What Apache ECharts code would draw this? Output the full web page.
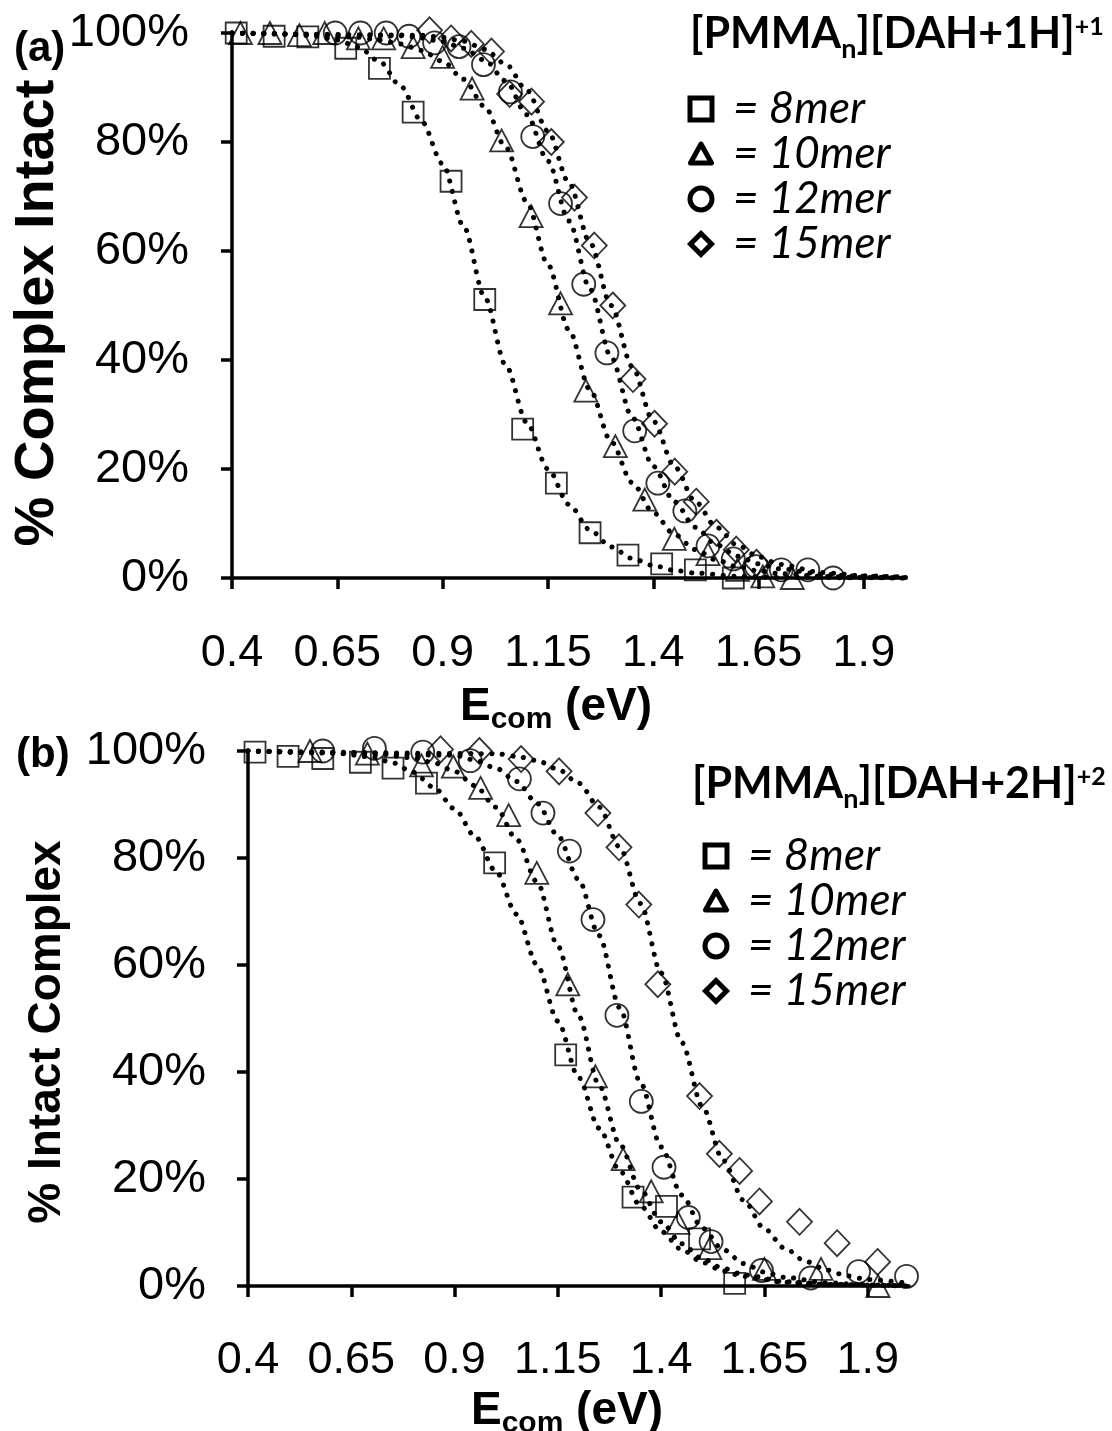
<!DOCTYPE html>
<html>
<head>
<meta charset="utf-8">
<title>% Complex Intact vs Ecom</title>
<script src="https://cdn.jsdelivr.net/npm/echarts@6.0.0/dist/echarts.min.js"></script>
<style>
html,body{margin:0;padding:0;background:#ffffff;}
#chart{width:1112px;height:1431px;}
</style>
</head>
<body>
<div id="chart"></div>
<script>
// ---------------- Data ----------------
const xTickValues = [0.4, 0.65, 0.9, 1.15, 1.4, 1.65, 1.9];
const seriesNames = ['8mer', '10mer', '12mer', '15mer'];

// Panel (a) [PMMAn][DAH+1H]+1 : measured points
const a8merX  = [0.41, 0.50, 0.58, 0.67, 0.75, 0.83, 0.92, 1.00, 1.09, 1.17, 1.25, 1.34, 1.42, 1.50, 1.59];
const a8merY  = [100, 99.4, 99.3, 97.2, 93.5, 85.5, 72.8, 51.1, 27.3, 17.4, 8.3, 4.2, 2.6, 1.5, 0];
const a10merX = [0.42, 0.49, 0.56, 0.62, 0.70, 0.76, 0.83, 0.90, 0.97, 1.04, 1.11, 1.18, 1.24, 1.31, 1.38, 1.45, 1.53, 1.60, 1.66, 1.73];
const a10merY = [100, 100, 99.6, 100, 99, 99, 97.4, 95.6, 89.8, 80.3, 66.4, 50.4, 34.4, 24.2, 14.4, 7.2, 4.4, 1.5, 0.3, 0];
const a12merX = [0.645, 0.705, 0.766, 0.82, 0.881, 0.939, 0.997, 1.061, 1.114, 1.18, 1.235, 1.29, 1.356, 1.411, 1.475, 1.53, 1.59, 1.645, 1.704, 1.767, 1.827];
const a12merY = [100, 100, 100, 99.4, 98.2, 97.5, 94.2, 89.2, 81, 68.7, 53.9, 41.3, 27, 17.4, 12.3, 5.9, 3.5, 2.1, 1.5, 1.5, 0];
const a15merX = [0.869, 0.92, 0.968, 1.016, 1.059, 1.111, 1.158, 1.213, 1.26, 1.304, 1.352, 1.403, 1.451, 1.502, 1.55, 1.597, 1.645];
const a15merY = [100.5, 99, 98, 96.6, 88.8, 87.4, 80, 69.8, 61, 50, 36.5, 28.3, 19.5, 14, 8.3, 5.2, 2.8];

// Panel (a) dotted fit curves
const a8fitX  = [0.4, 0.5, 0.55, 0.6, 0.65, 0.7, 0.75, 0.8, 0.85, 0.9, 0.95, 1.0, 1.05, 1.1, 1.15, 1.2, 1.25, 1.3, 1.35, 1.4, 1.45, 1.5, 1.6, 1.7, 2.0];
const a8fitY  = [100, 99.9, 99.7, 99.4, 98.7, 97.4, 94.8, 90.3, 83.8, 76, 64.5, 51.5, 39, 28.5, 20, 13.5, 8.8, 5.7, 3.6, 2.3, 1.4, 0.9, 0.3, 0.1, 0];
const a10fitX = [0.4, 0.6, 0.7, 0.75, 0.8, 0.85, 0.9, 0.95, 1.0, 1.05, 1.1, 1.15, 1.2, 1.25, 1.3, 1.35, 1.4, 1.45, 1.5, 1.55, 1.6, 1.65, 1.7, 1.8, 1.9, 2.0];
const a10fitY = [100, 99.7, 99.2, 98.7, 98, 96.8, 94.8, 91.5, 86.5, 79, 69, 57.5, 45.5, 34.5, 25, 17.5, 12, 8, 5.2, 3.3, 2.1, 1.3, 0.8, 0.3, 0.1, 0];
const a12fitX = [0.4, 0.8, 0.85, 0.9, 0.95, 1.0, 1.05, 1.1, 1.15, 1.2, 1.25, 1.3, 1.35, 1.4, 1.45, 1.5, 1.55, 1.6, 1.65, 1.7, 1.8, 1.9, 2.0];
const a12fitY = [100, 99.5, 99.1, 98.4, 97.2, 95, 91.2, 85, 76.5, 65.5, 53, 40.5, 29.5, 20.5, 14, 9.3, 6.1, 4, 2.6, 1.7, 0.7, 0.3, 0.1];
const a15fitX = [0.4, 0.85, 0.9, 0.95, 1.0, 1.05, 1.1, 1.15, 1.2, 1.25, 1.3, 1.35, 1.4, 1.45, 1.5, 1.55, 1.6, 1.65, 1.7, 1.8, 1.9, 2.0];
const a15fitY = [100, 99.6, 99.2, 98.5, 97, 94.3, 89.5, 82, 72.5, 61.5, 50, 38.8, 28.8, 20.5, 14, 9.3, 6, 3.9, 2.5, 1, 0.4, 0.15];

// Panel (b) [PMMAn][DAH+2H]+2 : measured points
const b8merX  = [0.417, 0.497, 0.581, 0.672, 0.751, 0.832, 0.997, 1.169, 1.332, 1.413, 1.493, 1.578];
const b8merY  = [99.8, 99, 98.6, 97.9, 96.8, 94, 79.1, 43.2, 16.6, 14.9, 8.8, 0.5];
const b10merX = [0.55, 0.689, 0.82, 0.897, 0.963, 1.031, 1.099, 1.174, 1.241, 1.308, 1.376, 1.441, 1.518, 1.65, 1.787, 1.925];
const b10merY = [100, 99.5, 97.3, 97.1, 93.1, 88, 77.2, 56.4, 39.2, 23.7, 17.7, 11.8, 7.1, 3.2, 3.2, 0];
const b12merX = [0.581, 0.706, 0.823, 0.938, 1.057, 1.114, 1.178, 1.235, 1.293, 1.352, 1.407, 1.466, 1.521, 1.643, 1.762, 1.878, 1.994];
const b12merY = [100, 100.5, 99.8, 98.2, 94.8, 88.4, 81.3, 68.5, 50.6, 34.5, 22.2, 12.8, 8.3, 2.9, 1.5, 2.7, 1.8];
const b15merX = [0.866, 0.96, 1.061, 1.153, 1.247, 1.298, 1.346, 1.392, 1.493, 1.541, 1.59, 1.638, 1.735, 1.826, 1.924];
const b15merY = [100.3, 100, 98.5, 96.2, 88.4, 82, 71.3, 56.4, 35.5, 24.7, 21.5, 15.8, 12, 8, 4.5];

// Panel (b) dotted fit curves
const b8fitX  = [0.4, 0.6, 0.7, 0.75, 0.8, 0.85, 0.9, 0.95, 1.0, 1.05, 1.1, 1.15, 1.2, 1.25, 1.3, 1.35, 1.4, 1.45, 1.5, 1.55, 1.6, 1.7, 1.8, 2.0];
const b8fitY  = [100, 99.7, 98.9, 97.8, 96, 93.2, 89.2, 84, 77.5, 69.5, 60, 49.5, 39, 29.5, 21.5, 15, 10.2, 6.8, 4.4, 2.8, 1.8, 0.7, 0.3, 0];
const b10fitX = [0.4, 0.7, 0.8, 0.85, 0.9, 0.95, 1.0, 1.05, 1.1, 1.15, 1.2, 1.25, 1.3, 1.35, 1.4, 1.45, 1.5, 1.55, 1.6, 1.7, 1.8, 2.0];
const b10fitY = [100, 99.6, 98.7, 97.8, 96.2, 93.5, 89.5, 83.5, 75.5, 63.5, 50.5, 37.5, 26.5, 18, 12, 7.9, 5.1, 3.3, 2.1, 0.8, 0.3, 0];
const b12fitX = [0.4, 0.9, 0.95, 1.0, 1.05, 1.1, 1.15, 1.2, 1.25, 1.3, 1.35, 1.4, 1.45, 1.5, 1.55, 1.6, 1.65, 1.7, 1.8, 1.9, 2.0];
const b12fitY = [100, 99.2, 98.3, 96.8, 94.3, 90.2, 84.2, 76, 65.5, 52, 38, 26, 17, 10.8, 6.8, 4.2, 2.6, 1.6, 0.6, 0.2, 0.1];
const b15fitX = [0.4, 1.0, 1.05, 1.1, 1.15, 1.2, 1.25, 1.3, 1.35, 1.4, 1.45, 1.5, 1.55, 1.6, 1.65, 1.7, 1.75, 1.8, 1.85, 1.9, 2.0];
const b15fitY = [100, 99.5, 99, 98.2, 96.6, 94, 89.5, 82, 71.5, 58.5, 45.5, 33.5, 23.5, 16, 10.7, 7, 4.6, 3, 1.9, 1.2, 0.5];

// ---------------- Chart ----------------
const pairs = (xs, ys) => xs.map((x, i) => [x, ys[i]]);
const chart = echarts.init(document.getElementById('chart'), null, {renderer: 'canvas'});

const markerDefs = [
  {symbol: 'rect', size: [21, 21]},
  {symbol: 'triangle', size: [23, 22]},
  {symbol: 'circle', size: [23, 23]},
  {symbol: 'diamond', size: [25, 26]}
];

function scatterSeries(idx, name, xs, ys, m) {
  return {
    type: 'scatter', name: name, xAxisIndex: idx, yAxisIndex: idx,
    data: pairs(xs, ys), symbol: m.symbol, symbolSize: m.size,
    clip: false, silent: true, z: 3,
    itemStyle: {color: 'rgba(0,0,0,0)', borderColor: '#000', borderWidth: 1.8}
  };
}
function fitSeries(idx, xs, ys) {
  return {
    type: 'line', xAxisIndex: idx, yAxisIndex: idx,
    data: pairs(xs, ys), showSymbol: false, symbol: 'none',
    smooth: 0.3, smoothMonotone: 'x', silent: true, clip: false, z: 2,
    lineStyle: {color: '#000', width: 5, type: [0.1, 10.5], cap: 'round'}
  };
}

const gridA = {left: 232, top: 33, width: 674, height: 545};
const gridB = {left: 248, top: 751, width: 661, height: 535};

function xAxisCfg(idx, margin) {
  return {
    type: 'value', gridIndex: idx, min: 0.4, max: 2.0,
    axisLine: {show: true, onZero: false, lineStyle: {color: '#000', width: 3.5}},
    axisTick: {show: true, length: 11, customValues: xTickValues, lineStyle: {color: '#000', width: 3.5}},
    axisLabel: {customValues: xTickValues, margin: margin, color: '#000', fontSize: 45,
      fontFamily: 'Liberation Sans, Arial, sans-serif', hideOverlap: false,
      formatter: v => String(+v.toFixed(2))},
    splitLine: {show: false}
  };
}
function yAxisCfg(idx, margin) {
  return {
    type: 'value', gridIndex: idx, min: 0, max: 100, interval: 20,
    axisLine: {show: true, onZero: false, lineStyle: {color: '#000', width: 3.5}},
    axisTick: {show: true, length: 11, lineStyle: {color: '#000', width: 3.5}},
    axisLabel: {margin: margin, color: '#000', fontSize: 47,
      fontFamily: 'Liberation Sans, Arial, sans-serif', formatter: '{value}%'},
    splitLine: {show: false}
  };
}

// ---- text helpers (measure to place sub/superscripts) ----
const mctx = document.createElement('canvas').getContext('2d');
function tw(text, font) { mctx.font = font; return mctx.measureText(text).width; }
function baseOff(font) { mctx.font = font; mctx.textBaseline = 'middle'; return mctx.measureText('H').actualBoundingBoxDescent; }
function textRun(parts, x, B, align) {
  const total = parts.reduce((s, p) => s + tw(p.t, p.font), 0);
  let cx = align === 'center' ? x - total / 2 : (align === 'right' ? x - total : x);
  const out = [];
  parts.forEach(p => {
    out.push({type: 'text', x: cx, y: B + (p.dy || 0) - baseOff(p.font), z: 50, silent: true,
      style: {text: p.t, font: p.font, fill: '#000', textAlign: 'left', verticalAlign: 'middle'}});
    cx += tw(p.t, p.font);
  });
  return out;
}

const ARIALB = (s) => 'bold ' + s + 'px "Liberation Sans", Arial, sans-serif';
const CALB = (s) => 'bold ' + s + 'px Lato, "Noto Sans", sans-serif';
const CALI = (s) => 'italic ' + s + 'px Lato, "Noto Sans", sans-serif';

function legendBlock(charge, titleX, titleBase, symX, textX, rows) {
  const g = [];
  g.push(...textRun([
    {t: '[PMMA', font: CALB(43)},
    {t: 'n', font: CALB(27), dy: 10},
    {t: '][DAH+' + charge + 'H]', font: CALB(43)},
    {t: '+' + charge, font: CALB(25), dy: -13}
  ], titleX, titleBase, 'left'));
  const st = {fill: 'none', stroke: '#000', lineWidth: 5};
  const [r0, r1, r2, r3] = rows;
  g.push({type: 'rect', shape: {x: symX - 11, y: r0 - 11, width: 22, height: 22}, style: Object.assign({}, st), z: 50, silent: true});
  g.push({type: 'polygon', shape: {points: [[symX, r1 - 10], [symX + 10.5, r1 + 9], [symX - 10.5, r1 + 9]]}, style: Object.assign({lineJoin: 'round'}, st), z: 50, silent: true});
  g.push({type: 'circle', shape: {cx: symX, cy: r2, r: 11}, style: Object.assign({}, st), z: 50, silent: true});
  g.push({type: 'polygon', shape: {points: [[symX, r3 - 10.5], [symX + 10.5, r3], [symX, r3 + 10.5], [symX - 10.5, r3]]}, style: Object.assign({lineJoin: 'miter'}, st), z: 50, silent: true});
  seriesNames.forEach((nm, i) => {
    g.push({type: 'text', x: textX, y: rows[i], z: 50, silent: true,
      style: {text: '= ' + nm, font: CALI(44), fill: '#000', textAlign: 'left', verticalAlign: 'middle'}});
  });
  return g;
}

const graphics = [];
graphics.push({type: 'text', x: 14, y: 49, z: 50, silent: true, style: {text: '(a)', font: ARIALB(42), fill: '#000', textAlign: 'left', verticalAlign: 'middle'}});
graphics.push({type: 'text', x: 16, y: 755, z: 50, silent: true, style: {text: '(b)', font: ARIALB(42), fill: '#000', textAlign: 'left', verticalAlign: 'middle'}});
graphics.push({type: 'text', x: 38, y: 313, rotation: Math.PI / 2, z: 50, silent: true, style: {text: '% Complex Intact', font: ARIALB(56), fill: '#000', textAlign: 'center', verticalAlign: 'middle'}});
graphics.push({type: 'text', x: 47, y: 1032, rotation: Math.PI / 2, z: 50, silent: true, style: {text: '% Intact Complex', font: ARIALB(46), fill: '#000', textAlign: 'center', verticalAlign: 'middle'}});
graphics.push(...textRun([{t: 'E', font: ARIALB(46)}, {t: 'com', font: ARIALB(30), dy: 8}, {t: ' (eV)', font: ARIALB(46)}], 556, 720, 'center'));
graphics.push(...textRun([{t: 'E', font: ARIALB(46)}, {t: 'com', font: ARIALB(30), dy: 8}, {t: ' (eV)', font: ARIALB(46)}], 567, 1424, 'center'));
graphics.push(...legendBlock('1', 690, 48, 701, 733, [109, 154, 199, 244]));
graphics.push(...legendBlock('2', 692, 798, 716, 748, [856, 901, 946, 991]));

const series = [];
const aSets = [[a8merX, a8merY], [a10merX, a10merY], [a12merX, a12merY], [a15merX, a15merY]];
const bSets = [[b8merX, b8merY], [b10merX, b10merY], [b12merX, b12merY], [b15merX, b15merY]];
const aFits = [[a8fitX, a8fitY], [a10fitX, a10fitY], [a12fitX, a12fitY], [a15fitX, a15fitY]];
const bFits = [[b8fitX, b8fitY], [b10fitX, b10fitY], [b12fitX, b12fitY], [b15fitX, b15fitY]];
aFits.forEach(f => series.push(fitSeries(0, f[0], f[1])));
bFits.forEach(f => series.push(fitSeries(1, f[0], f[1])));
aSets.forEach((s, i) => series.push(scatterSeries(0, seriesNames[i], s[0], s[1], markerDefs[i])));
bSets.forEach((s, i) => series.push(scatterSeries(1, seriesNames[i], s[0], s[1], markerDefs[i])));

chart.setOption({
  animation: false,
  backgroundColor: '#ffffff',
  grid: [
    Object.assign({containLabel: false, outerBoundsMode: 'none'}, gridA),
    Object.assign({containLabel: false, outerBoundsMode: 'none'}, gridB)
  ],
  xAxis: [xAxisCfg(0, 53), xAxisCfg(1, 52)],
  yAxis: [yAxisCfg(0, 43), yAxisCfg(1, 42)],
  series: series,
  graphic: graphics
});
</script>
</body>
</html>
